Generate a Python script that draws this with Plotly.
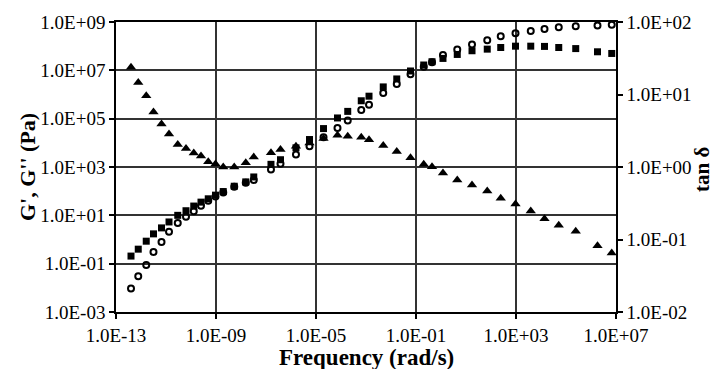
import plotly.graph_objects as go

# Frequency (rad/s)
freq = [3.98e-13, 7.76e-13, 1.62e-12, 3.16e-12, 6.61e-12, 1.32e-11, 2.95e-11, 6.31e-11,
        1.29e-10, 2.51e-10, 4.90e-10, 9.55e-10, 1.95e-9, 5.37e-9, 1.55e-8, 3.24e-8,
        1.58e-7, 3.80e-7, 1.58e-6, 5.50e-6, 2.00e-5, 7.24e-5, 1.86e-4, 6.46e-4,
        1.32e-3, 4.90e-3, 1.70e-2, 6.03e-2, 0.204, 0.437, 1.20, 4.47, 17.4, 70.8,
        245, 955, 3890, 13800, 51300, 245000, 1.82e6, 6.76e6]

# G'' (filled squares), Pa
g_loss = [0.206, 0.398, 0.851, 1.71, 3.02, 5.32, 10.0, 15.5, 24.2, 35.2, 48.3, 68.4,
          96.4, 160, 242, 387, 1290, 2000, 6210, 13700, 38900, 107000, 200000, 550000,
          851000, 2.06e6, 4.40e6, 9.40e6, 1.66e7, 2.27e7, 3.11e7, 4.54e7, 6.46e7, 7.53e7,
          8.81e7, 1.0e8, 1.0e8, 9.77e7, 8.81e7, 7.94e7, 5.85e7, 4.99e7]

# G' (open circles), Pa
g_store = [9.33e-3, 0.0302, 0.0871, 0.302, 0.794, 2.07, 4.83, 8.79, 14.6, 25.1, 39.8, 60.3,
           89.1, 151, 224, 292, 794, 1360, 3310, 7240, 17000, 41200, 83200, 226000,
           376000, 1.14e6, 2.75e6, 6.84e6, 1.41e7, 2.14e7, 4.27e7, 7.29e7, 1.17e8, 1.77e8,
           2.58e8, 3.42e8, 4.27e8, 5.15e8, 6.04e8, 6.61e8, 7.24e8, 7.76e8]

# tan delta (filled triangles)
tan_delta = [23.7, 14.6, 9.59, 5.73, 3.92, 2.86, 2.04, 1.80, 1.56, 1.42, 1.18, 1.10,
             1.00, 1.00, 1.14, 1.37, 1.57, 1.75, 1.94, 2.15, 2.47, 2.74, 2.66, 2.58,
             2.37, 1.98, 1.64, 1.34, 1.09, 1.01, 0.828, 0.664, 0.566, 0.465, 0.372, 0.308,
             0.247, 0.194, 0.157, 0.130, 0.0820, 0.0649]

x_tickvals = [1e-13, 1e-9, 1e-5, 1e-1, 1e3, 1e7]
x_ticktext = ["1.0E-13", "1.0E-09", "1.0E-05", "1.0E-01", "1.0E+03", "1.0E+07"]
y_tickvals = [1e-3, 1e-1, 1e1, 1e3, 1e5, 1e7, 1e9]
y_ticktext = ["1.0E-03", "1.0E-01", "1.0E+01", "1.0E+03", "1.0E+05", "1.0E+07", "1.0E+09"]
y2_tickvals = [1e-2, 1e-1, 1e0, 1e1, 1e2]
y2_ticktext = ["1.0E-02", "1.0E-01", "1.0E+00", "1.0E+01", "1.0E+02"]

FONT = "'Liberation Serif', 'Times New Roman', 'DejaVu Serif', serif"

fig = go.Figure()
fig.add_trace(go.Scatter(x=freq, y=g_loss, mode="markers", name="G''",
                         marker=dict(symbol="square", size=7, color="black")))
fig.add_trace(go.Scatter(x=freq, y=g_store, mode="markers", name="G'",
                         marker=dict(symbol="circle-open", size=6, color="black",
                                     line=dict(width=2, color="black"))))
fig.add_trace(go.Scatter(x=freq, y=tan_delta, mode="markers", name="tan δ", yaxis="y2",
                         marker=dict(symbol="triangle-up", size=9, color="black")))

tickfont = dict(family=FONT, size=19, color="black")
fig.update_layout(
    width=714, height=369,
    margin=dict(l=116, r=98, t=20, b=57),
    paper_bgcolor="white", plot_bgcolor="white",
    showlegend=False,
    font=dict(family=FONT, color="black"),
    xaxis=dict(type="log", range=[-13, 7], tickvals=x_tickvals, ticktext=x_ticktext,
               showgrid=True, gridcolor="#333", gridwidth=1.5,
               showline=True, linecolor="black", linewidth=1.5, mirror=True,
               ticks="outside", ticklen=5, tickcolor="black", tickwidth=1.5,
               tickfont=tickfont, zeroline=False),
    yaxis=dict(type="log", range=[-3, 9], tickvals=y_tickvals, ticktext=y_ticktext,
               showgrid=True, gridcolor="#333", gridwidth=1.5,
               showline=True, linecolor="black", linewidth=1.5,
               ticks="outside", ticklen=5, tickcolor="black", tickwidth=1.5,
               tickfont=tickfont, zeroline=False),
    yaxis2=dict(type="log", range=[-2, 2], tickvals=y2_tickvals, ticktext=y2_ticktext,
                overlaying="y", side="right", showgrid=False,
                showline=True, linecolor="black", linewidth=1.5,
                ticks="outside", ticklen=5, tickcolor="black", tickwidth=1.5,
                tickfont=tickfont, zeroline=False),
    annotations=[
        dict(text="<b>G', G'' (Pa)</b>", xref="paper", yref="paper", x=-0.178, y=0.5,
             xanchor="center", yanchor="middle", textangle=-90, showarrow=False,
             font=dict(family=FONT, size=22, color="black")),
        dict(text="<b>tan δ</b>", xref="paper", yref="paper", x=1.172, y=0.49,
             xanchor="center", yanchor="middle", textangle=-90, showarrow=False,
             font=dict(family=FONT, size=21, color="black")),
        dict(text="<b>Frequency (rad/s)</b>", xref="paper", yref="paper", x=0.5, y=-0.157,
             xanchor="center", yanchor="middle", showarrow=False,
             font=dict(family=FONT, size=23, color="black")),
    ],
)

fig.write_html("out.html")
